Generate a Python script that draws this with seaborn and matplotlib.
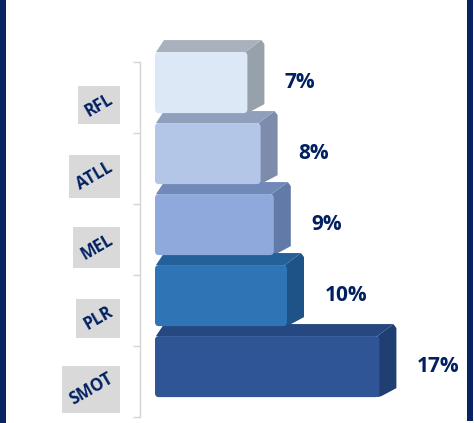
import numpy as np
import pandas as pd
import matplotlib
matplotlib.use("Agg")
import matplotlib.pyplot as plt
from matplotlib.patches import Polygon, Rectangle, FancyBboxPatch
import seaborn as sns

categories = ["RFL", "ATLL", "MEL", "PLR", "SMOT"]
values = [7, 8, 9, 10, 17]
labels = ["7%", "8%", "9%", "10%", "17%"]
front_colors = ["#dce8f6", "#b4c6e7", "#8fa9dc", "#2e75b6", "#2f5597"]
top_colors = ["#a9b2bc", "#909fbb", "#7189b9", "#24609a", "#264880"]
side_colors = ["#97a1ac", "#7d8caa", "#627aa8", "#1d5386", "#203e72"]
navy = "#0a2463"
text_navy = "#002060"

W, H = 474, 423
fig = plt.figure(figsize=(W / 100, H / 100), dpi=100)
fig.patch.set_facecolor("white")

ax_l, ax_r, ax_t, ax_b = 140, 466, 62, 417
ax = fig.add_axes([ax_l / W, (H - ax_b) / H, (ax_r - ax_l) / W, (ax_b - ax_t) / H])

df = pd.DataFrame({"cat": categories, "value": values})
sns.barplot(data=df, x="value", y="cat", hue="cat", palette=front_colors,
            legend=False, width=0.86, orient="h", ax=ax, saturation=1,
            edgecolor="none")

ax.set_xlim(-15 / 13.2, (ax_r - ax_l - 15) / 13.2)
ax.set_ylim(4.71, -0.29)
ax.set_facecolor("none")
for s in ["top", "right", "bottom"]:
    ax.spines[s].set_visible(False)
ax.spines["left"].set_color("#d4d4d4")
ax.spines["left"].set_linewidth(1.0)
ax.set_xticks([])
ax.set_yticks([i - 0.29 for i in range(6)])
ax.set_yticklabels([])
ax.tick_params(axis="y", length=5, color="#d4d4d4", width=1.0)
ax.set_xlabel("")
ax.set_ylabel("")

ppu_x = 13.2
ppu_y = (ax_b - ax_t) / 5.0
def px_dx(p):
    return p / ppu_x
def px_dy(p):
    return p / ppu_y

font = ["Open Sans", "DejaVu Sans"]

for i, patch in enumerate(ax.patches):
    x0 = patch.get_x()
    w = patch.get_width()
    y0 = patch.get_y()
    h = patch.get_height()
    yt, yb = y0, y0 + h  # yt is visual top (inverted axis)
    xr = x0 + w
    patch.set_visible(False)
    dy = px_dy(12)
    side = Polygon([(xr - px_dx(2), yt), (xr + px_dx(14), yt - dy),
                    (xr + px_dx(17), yt - dy + px_dy(4)),
                    (xr + px_dx(17), yb - px_dy(9)), (xr + px_dx(2), yb - px_dy(1)),
                    (xr - px_dx(2), yb)],
                   closed=True, facecolor=side_colors[i], edgecolor="none", clip_on=False, zorder=3)
    top = Polygon([(x0 + px_dx(1), yt), (x0 + px_dx(9), yt - dy), (xr + px_dx(14), yt - dy),
                   (xr - px_dx(2), yt)],
                  closed=True, facecolor=top_colors[i], edgecolor="none", clip_on=False, zorder=3)
    ax.add_patch(side)
    ax.add_patch(top)
    r = 4
    front = FancyBboxPatch((x0 + px_dx(r), yt + px_dy(r)), w - px_dx(2 * r), h - px_dy(2 * r),
                           boxstyle=f"round,pad={px_dx(r)},rounding_size={px_dx(r)}",
                           mutation_aspect=ppu_x / ppu_y,
                           facecolor=front_colors[i], edgecolor="none", clip_on=False, zorder=4)
    ax.add_patch(front)
    ax.annotate(labels[i], xy=(xr, y0 + h / 2), xytext=(27, 0), textcoords="offset points",
                ha="left", va="center", fontsize=15, fontweight="bold", color=text_navy,
                family=font)

# rotated category labels with grey boxes
texts = []
for i, c in enumerate(categories):
    t = ax.text(-15 / 13.2 - px_dx(24), i + 0.32, c, rotation=30, ha="right", va="center",
                fontsize=12, fontweight="bold", color=text_navy,
                family=font, zorder=5)
    texts.append(t)

fig.canvas.draw()
renderer = fig.canvas.get_renderer()
for t in texts:
    bb = t.get_window_extent(renderer)
    pad = 4
    rect = Rectangle((bb.x0 - pad, bb.y0 - pad), bb.width + 2 * pad, bb.height + 2 * pad,
                     transform=None, facecolor="#d9d9d9", edgecolor="none", zorder=-1)
    fig.patches.append(rect)

# navy side borders
fig.patches.append(Rectangle((0, 0), 6 / W, 1, transform=fig.transFigure,
                             facecolor=navy, edgecolor="none", zorder=-1))
fig.patches.append(Rectangle((467 / W, (H - 421) / H), 6 / W, 421 / H, transform=fig.transFigure,
                             facecolor=navy, edgecolor="none", zorder=-1))

fig.savefig("out.png", dpi=100, facecolor="white")
